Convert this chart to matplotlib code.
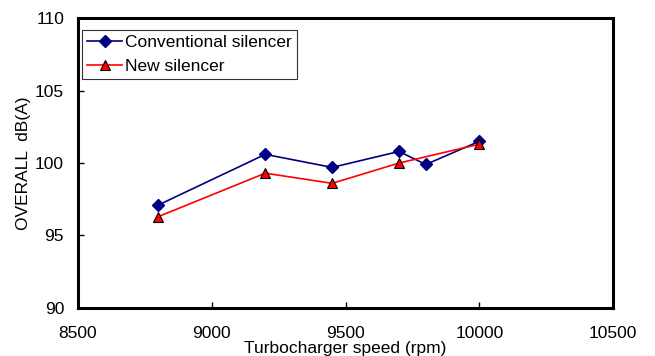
import matplotlib
matplotlib.use("Agg")
import matplotlib.pyplot as plt

# turbocharger speed (rpm)
speed_conv = [8800, 9200, 9450, 9700, 9800, 10000]
level_conv = [97.1, 100.6, 99.7, 100.8, 99.9, 101.5]

speed_new = [8800, 9200, 9450, 9700, 10000]
level_new = [96.3, 99.3, 98.6, 100.0, 101.3]

plt.rcParams["font.family"] = ["Liberation Sans", "DejaVu Sans"]
FS = 12.5

fig = plt.figure(figsize=(6.55, 3.56), dpi=100)
ax = fig.add_axes([0.119, 0.135, 0.817, 0.814])

ax.plot(speed_conv, level_conv, color="#000080", marker="D", markersize=6,
        linewidth=1.2, label="Conventional silencer")
ax.plot(speed_new, level_new, color="#ff0000", marker="^", markersize=7.5,
        markerfacecolor="#ff0000", markeredgecolor="black", markeredgewidth=0.8,
        linewidth=1.2, label="New silencer")

ax.set_xlim(8500, 10500)
ax.set_ylim(90, 110)
ax.set_xticks([8500, 9000, 9500, 10000, 10500])
ax.set_yticks([90, 95, 100, 105, 110])
ax.tick_params(direction="in", length=4, width=1, labelsize=FS)
ax.tick_params(axis="y", pad=10)
ax.tick_params(axis="x", pad=13)

for s in ax.spines.values():
    s.set_linewidth(2.2)

ax.set_xlabel("Turbocharger speed (rpm)", fontsize=FS, labelpad=0)
ax.set_ylabel("OVERALL  dB(A)", fontsize=FS, labelpad=3)

leg = ax.legend(loc="upper left", bbox_to_anchor=(0.0075, 0.959), borderaxespad=0,
                fontsize=FS, frameon=True, fancybox=False, edgecolor="black",
                borderpad=0.3, labelspacing=0.5, handlelength=2.0,
                handletextpad=0.2)
leg.get_frame().set_linewidth(0.8)

fig.savefig("out.png", dpi=100)
